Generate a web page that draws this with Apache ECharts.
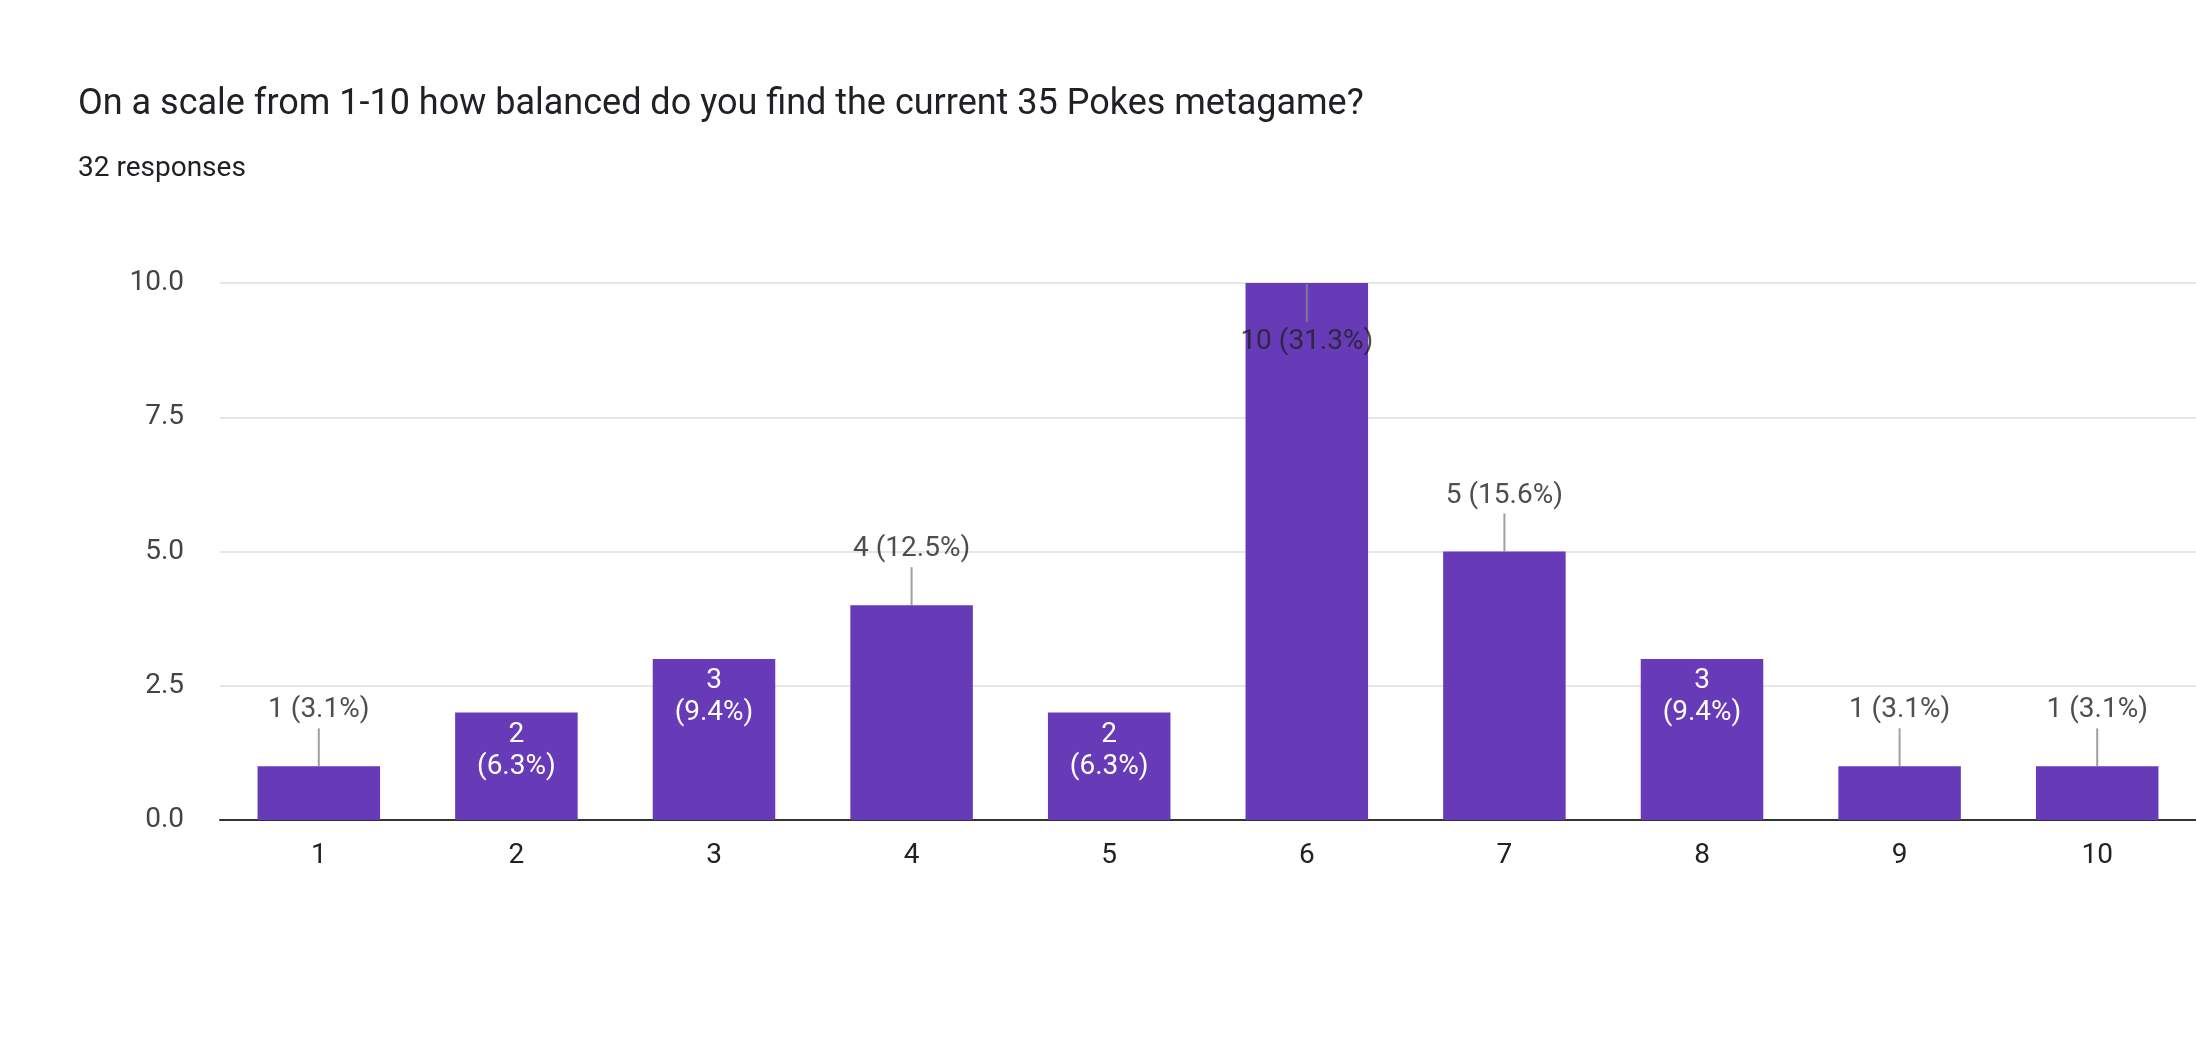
<!DOCTYPE html>
<html>
<head>
<meta charset="utf-8">
<script src="https://cdn.jsdelivr.net/npm/echarts@6/dist/echarts.min.js"></script>
<style>html,body{margin:0;padding:0;background:#fff}#main{width:2196px;height:1044px}</style>
</head>
<body>
<div id="main"></div>
<script>
const categories = ['1', '2', '3', '4', '5', '6', '7', '8', '9', '10'];
const counts = [1, 2, 3, 4, 2, 10, 5, 3, 1, 1];
const total = 32;
// bars whose label sits inside (white, two lines)
const insideLabel = [false, true, true, false, true, false, false, true, false, false];

const pct = v => (v / total * 100).toFixed(1) + '%';

const chart = echarts.init(document.getElementById('main'));

const barData = counts.map((v, i) => ({
    value: v,
    label: insideLabel[i] ? {
        show: true, position: 'insideTop', distance: 6, color: '#fff',
        formatter: v + '\n(' + pct(v) + ')', lineHeight: 32
    } : { show: false }
}));

const leaderData = [];
counts.forEach((v, i) => {
    if (insideLabel[i]) return;
    const top = v === 10;
    leaderData.push({
        value: [i, v],
        symbolOffset: top ? [0, 20] : [0, -19],
        label: {
            show: true,
            position: top ? 'bottom' : 'top',
            distance: top ? 6 : 4,
            formatter: v + ' (' + pct(v) + ')'
        }
    });
});

const option = {
    backgroundColor: '#ffffff',
    title: [{
        text: 'On a scale from 1-10 how balanced do you find the current 35 Pokes metagame?',
        left: 73, top: 82,
        textStyle: { fontFamily: 'Roboto', fontSize: 36, fontWeight: 'normal', color: '#202124' }
    }, {
        text: '32 responses',
        left: 73, top: 150,
        textStyle: { fontFamily: 'Roboto', fontSize: 28, fontWeight: 'normal', color: '#202124' }
    }],
    grid: { left: 220, right: 0, top: 283, bottom: 224 },
    xAxis: {
        type: 'category',
        data: categories,
        axisLine: { lineStyle: { color: '#333', width: 2 } },
        axisTick: { show: false },
        axisLabel: { fontFamily: 'Roboto', fontSize: 28, color: '#222', margin: 22 }
    },
    yAxis: {
        type: 'value',
        min: 0, max: 10, interval: 2.5,
        axisLabel: { fontFamily: 'Roboto', fontSize: 28, color: '#444', margin: 36,
            formatter: v => v.toFixed(1) },
        splitLine: { lineStyle: { color: '#e6e6e6', width: 2 } },
        axisLine: { show: false }
    },
    series: [{
        type: 'bar',
        data: barData,
        barWidth: '62%',
        itemStyle: { color: '#673ab7' },
        label: { fontFamily: 'Roboto', fontSize: 28 }
    }, {
        type: 'scatter',
        data: leaderData,
        symbol: 'rect',
        symbolSize: [2, 38],
        itemStyle: { color: '#888' },
        z: 5,
        label: { fontFamily: 'Roboto', fontSize: 28, color: '#222' }
    }]
};

chart.setOption(option);
</script>
</body>
</html>
